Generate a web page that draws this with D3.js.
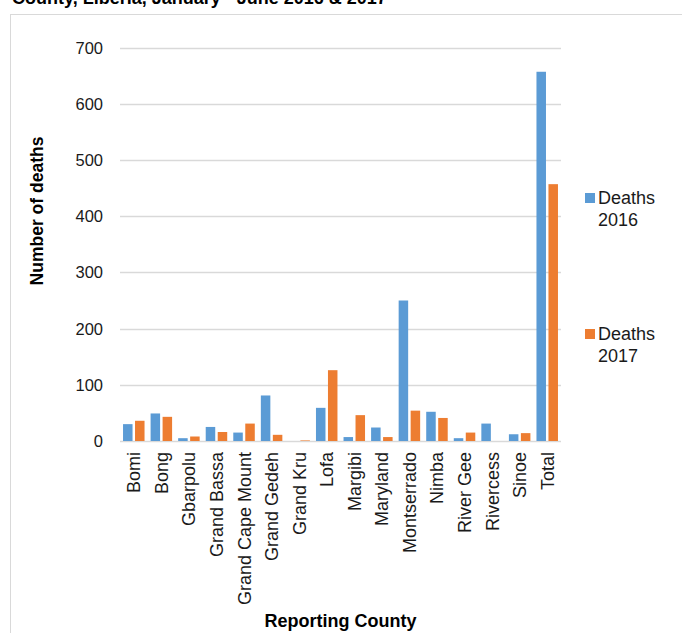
<!DOCTYPE html>
<html>
<head>
<meta charset="utf-8">
<script src="https://cdn.jsdelivr.net/npm/d3@7"></script>
<style>
  html, body { margin: 0; padding: 0; background: #fff; overflow: hidden; }
  svg { display: block; font-family: "Liberation Sans", Arial, sans-serif; }
</style>
</head>
<body>
<svg id="chart" width="682" height="633"></svg>
<script>
const counties = ["Bomi","Bong","Gbarpolu","Grand Bassa","Grand Cape Mount","Grand Gedeh","Grand Kru","Lofa","Margibi","Maryland","Montserrado","Nimba","River Gee","Rivercess","Sinoe","Total"];
const deaths2016 = [30,49,5,25,15,81,0,59,7,24,250,52,5,31,12,657];
const deaths2017 = [36,43,8,16,31,11,1,126,46,7,54,41,15,0,14,457];
const seriesNames = ["Deaths 2016","Deaths 2017"];
const seriesColors = ["#5b9bd5","#ed7d31"];
const yTicks = [0,100,200,300,400,500,600,700];
const titleText = "County, Liberia, January - June 2016 & 2017";
const yTitle = "Number of deaths";
const xTitle = "Reporting County";

const svg = d3.select("#chart");

// title (clipped at the top, as in the reference)
svg.append("text").attr("x", 12).attr("y", 4)
  .attr("font-size", 18).attr("font-weight", "bold").attr("fill", "#000")
  .text(titleText);

// chart area border
svg.append("rect").attr("x", 10.5).attr("y", 14.5).attr("width", 700).attr("height", 700)
  .attr("fill", "none").attr("stroke", "#d9d9d9").attr("stroke-width", 1);

const x0 = 120, x1 = 561, yTop = 47.6, yBottom = 441;
const x = d3.scaleBand().domain(counties).range([x0, x1]).padding(0);
const y = d3.scaleLinear().domain([0, 700]).range([yBottom, yTop]);

// gridlines
svg.append("g").selectAll("line").data(yTicks).join("line")
  .attr("x1", x0).attr("x2", x1)
  .attr("y1", d => Math.round(y(d)) + 0.5).attr("y2", d => Math.round(y(d)) + 0.5)
  .attr("stroke", "#d9d9d9").attr("stroke-width", 1.3);

// y tick labels
svg.append("g").selectAll("text").data(yTicks).join("text")
  .attr("x", 103).attr("y", d => y(d))
  .attr("dy", "0.36em").attr("text-anchor", "end")
  .attr("font-size", 16.5).attr("fill", "#1a1a1a")
  .text(d => d);

// bars
const step = x.step();
const bw = step * 0.345;
const gap = step * 0.09;
const series = [deaths2016, deaths2017];
series.forEach((vals, si) => {
  svg.append("g").selectAll("rect").data(counties).join("rect")
    .attr("x", (c) => {
      const cx = x(c) + step / 2;
      return si === 0 ? cx - gap / 2 - bw : cx + gap / 2;
    })
    .attr("y", (c, i) => y(vals[i]))
    .attr("width", bw)
    .attr("height", (c, i) => y(0) - y(vals[i]))
    .attr("fill", seriesColors[si]);
});

// x labels
svg.append("g").selectAll("text").data(counties).join("text")
  .attr("transform", c => `translate(${x(c) + step / 2},452) rotate(-90)`)
  .attr("dy", "0.36em").attr("text-anchor", "end")
  .attr("font-size", 18).attr("fill", "#1a1a1a")
  .text(c => c);

// axis titles
svg.append("text")
  .attr("transform", "translate(43,211) rotate(-90)")
  .attr("text-anchor", "middle").attr("font-size", 17.5).attr("font-weight", "bold")
  .attr("fill", "#000").text(yTitle);

svg.append("text").attr("x", 340.5).attr("y", 627)
  .attr("text-anchor", "middle").attr("font-size", 18).attr("font-weight", "bold")
  .attr("fill", "#000").text(xTitle);

// legend
const legendY = [193, 329];
seriesNames.forEach((name, i) => {
  const g = svg.append("g");
  g.append("rect").attr("x", 585).attr("y", legendY[i]).attr("width", 10).attr("height", 10)
    .attr("fill", seriesColors[i]);
  const parts = name.split(" ");
  parts.forEach((p, j) => {
    g.append("text").attr("x", 598).attr("y", legendY[i] + 11 + j * 22)
      .attr("font-size", 18).attr("fill", "#1a1a1a").text(p);
  });
});
</script>
</body>
</html>
